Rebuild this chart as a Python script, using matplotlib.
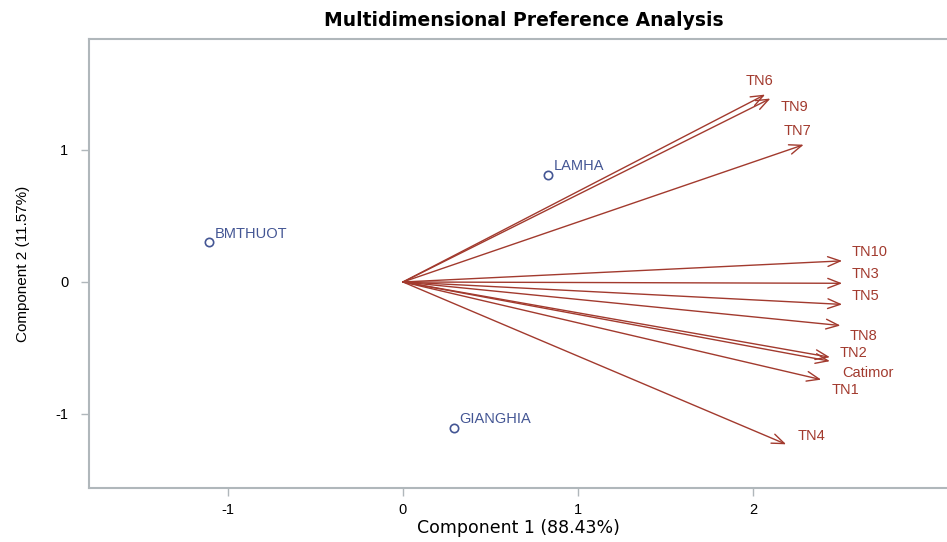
import matplotlib
matplotlib.use("Agg")
from matplotlib import pyplot as plt

# preference vectors (component 1, component 2)
judges = ["TN6", "TN9", "TN7", "TN10", "TN3", "TN5", "TN8", "TN2", "Catimor", "TN1", "TN4"]
judge_c1 = [2.07, 2.10, 2.29, 2.51, 2.51, 2.51, 2.50, 2.44, 2.44, 2.39, 2.19]
judge_c2 = [1.42, 1.39, 1.04, 0.16, -0.01, -0.17, -0.33, -0.57, -0.60, -0.74, -1.23]

# object scores
objects = ["BMTHUOT", "LAMHA", "GIANGHIA"]
obj_c1 = [-1.11, 0.83, 0.29]
obj_c2 = [0.30, 0.81, -1.11]

# label offsets in pixels from the arrow tip / marker (dx right, dy up)
judge_offsets = [(-20, 14), (10, -8), (-20, 14), (9, 9), (9, 9), (9, 8),
                 (9, -10), (10, 4), (12, -12), (10, -10), (11, 8)]
obj_offsets = [(6, 8), (6, 9), (6, 9)]

RED = "#A23A2E"
BLUE = "#445694"
GRAY = "#B0B7BB"
PX = 0.72  # points per pixel at dpi 100

plt.rcParams['font.family'] = ['Liberation Sans', 'DejaVu Sans']

fig = plt.figure(figsize=(9.47, 5.42), dpi=100)
ax = fig.add_axes([89 / 947, (542 - 488) / 542, 1 - 89 / 947, (488 - 39) / 542])

for name, x, y, (dx, dy) in zip(judges, judge_c1, judge_c2, judge_offsets):
    ax.annotate("", xy=(x, y), xytext=(0, 0),
                arrowprops=dict(arrowstyle="->,head_length=0.9,head_width=0.35",
                                color=RED, lw=1.0, shrinkA=0, shrinkB=0))
    ax.annotate(name, xy=(x, y), xytext=(dx * PX, dy * PX), textcoords="offset points",
                color=RED, fontsize=10.5, ha="left", va="center")

ax.plot(obj_c1, obj_c2, ls="none", marker="o", ms=6, mfc="none", mec=BLUE, mew=1.2)
for name, x, y, (dx, dy) in zip(objects, obj_c1, obj_c2, obj_offsets):
    ax.annotate(name, xy=(x, y), xytext=(dx * PX, dy * PX), textcoords="offset points",
                color=BLUE, fontsize=10.5, ha="left", va="center")

ax.set_xlim(-1.794, 3.109)
ax.set_ylim(-1.561, 1.841)
ax.set_xticks([-1, 0, 1, 2])
ax.set_yticks([-1, 0, 1])
ax.set_xticklabels(["-1", "0", "1", "2"])
ax.set_yticklabels(["-1", "0", "1"])

for side in ["left", "bottom", "top"]:
    ax.spines[side].set_color(GRAY)
    ax.spines[side].set_linewidth(1.5)
ax.spines["right"].set_visible(False)
ax.tick_params(colors=GRAY, labelcolor="black", labelsize=10.5, length=6, width=1)
ax.tick_params(axis="x", pad=5)
ax.tick_params(axis="y", pad=9)

ax.set_xlabel("Component 1 (88.43%)", fontsize=12.5, family="DejaVu Sans", labelpad=1)
ax.set_ylabel("Component 2 (11.57%)", fontsize=11, labelpad=18)
fig.text(524 / 947, 1 - 21 / 542, "Multidimensional Preference Analysis",
         ha="center", va="center", fontsize=13.5, fontweight="bold", family="DejaVu Sans")

plt.savefig("out.png", dpi=100)
plt.close()
